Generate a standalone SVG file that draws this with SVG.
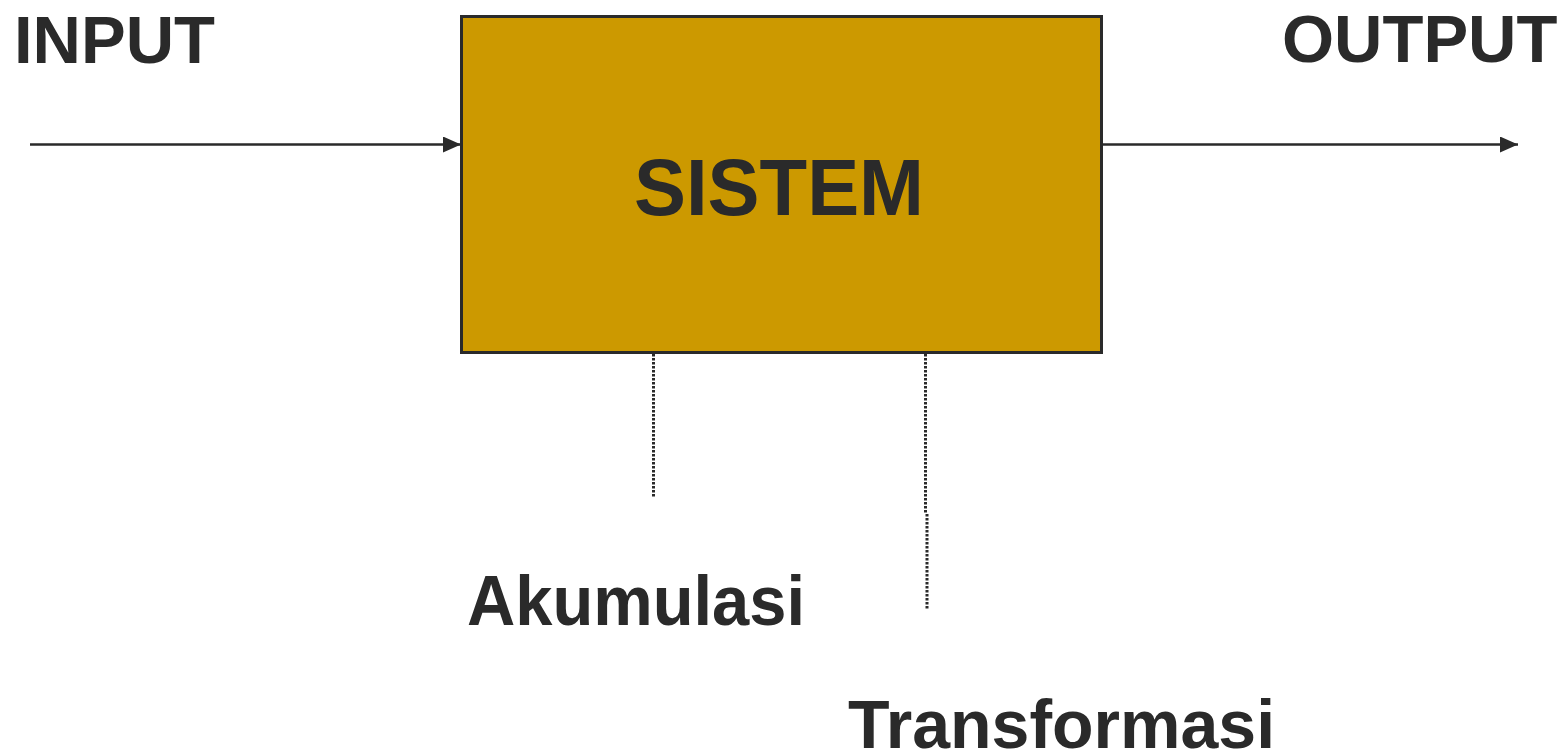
<svg xmlns="http://www.w3.org/2000/svg" width="1568" height="751" viewBox="0 0 1568 751">
  <style>
    .lbl { font-family: "Liberation Sans", Arial, sans-serif; font-weight: bold; fill: #2a2a2a; }
    .flow { stroke: #2a2a2a; stroke-width: 2.5; fill: none; }
    .dot { stroke: #2a2a2a; stroke-width: 3; stroke-dasharray: 2.5 1.5; fill: none; }
  </style>
  <defs>
    <marker id="head" viewBox="0 0 18 16" refX="18" refY="8" markerWidth="18" markerHeight="16" markerUnits="userSpaceOnUse" orient="auto">
      <path d="M0,0 L18,8 L0,16 Z" fill="#2a2a2a"/>
    </marker>
  </defs>

  <rect width="1568" height="751" fill="#ffffff"/>

  <g id="connectors">
    <line class="flow" x1="30" y1="144.5" x2="461" y2="144.5" marker-end="url(#head)"/>
    <line class="flow" x1="1103" y1="144.5" x2="1518" y2="144.5" marker-end="url(#head)"/>
    <line class="dot" x1="653.5" y1="354" x2="653.5" y2="497"/>
    <line class="dot" x1="925.5" y1="354" x2="925.5" y2="514"/>
    <line class="dot" x1="927" y1="514" x2="927" y2="609"/>
  </g>

  <g id="sistem">
    <rect x="461.5" y="16.5" width="640" height="336" fill="#cc9900" stroke="#2a2a2a" stroke-width="3"/>
    <text class="lbl" x="634" y="215" font-size="80" textLength="290" lengthAdjust="spacingAndGlyphs">SISTEM</text>
  </g>

  <g id="input">
    <text class="lbl" x="14" y="63" font-size="67">INPUT</text>
  </g>

  <g id="output">
    <text class="lbl" x="1282" y="62" font-size="67">OUTPUT</text>
  </g>

  <g id="akumulasi">
    <text class="lbl" x="467" y="625" font-size="70" textLength="338" lengthAdjust="spacingAndGlyphs">Akumulasi</text>
  </g>

  <g id="transformasi">
    <text class="lbl" x="848" y="748" font-size="68">Transformasi</text>
  </g>
</svg>
